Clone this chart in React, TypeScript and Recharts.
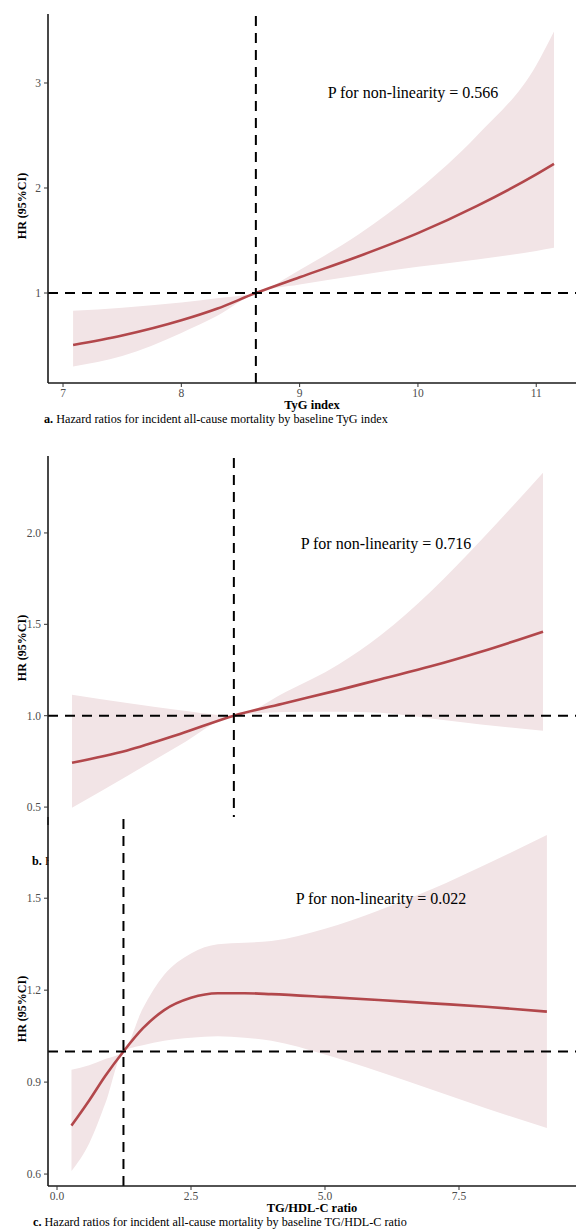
import React from 'react';
import { ComposedChart, Area, Line, XAxis, YAxis, ReferenceLine } from 'recharts';

const SERIF = "'Liberation Serif', 'Times New Roman', 'DejaVu Serif', serif";
const LINE_COLOR = '#B2474B';
const BAND_COLOR = '#F2E4E6';
const AXIS_COLOR = '#1a1a1a';
const TICK_COLOR = '#4d4d4d';

// a. TyG index
const A_X = [7.085, 7.5, 8.0, 8.3, 8.63, 9.0, 9.5, 10.0, 10.5, 11.0, 11.15];
const A_HR = [0.505, 0.595, 0.74, 0.85, 1.0, 1.15, 1.35, 1.57, 1.83, 2.13, 2.23];
const A_LO = [0.3, 0.4, 0.62, 0.78, 1.0, 1.08, 1.17, 1.25, 1.32, 1.4, 1.43];
const A_HI = [0.83, 0.86, 0.91, 0.95, 1.0, 1.22, 1.56, 1.98, 2.5, 3.17, 3.49];
const A_XTICKS = [7, 8, 9, 10, 11];
const A_YTICKS = [1, 2, 3];

// b. (x axis hidden under panel c)
const B_X = [0.455, 1.5, 2.5, 3.52, 4.5, 5.5, 6.3, 7.25, 8.2, 9.375];
const B_HR = [0.743, 0.81, 0.9, 1.0, 1.07, 1.14, 1.2, 1.27, 1.35, 1.46];
const B_LO = [0.497, 0.67, 0.84, 1.0, 1.02, 1.022, 1.016, 0.985, 0.952, 0.918];
const B_HI = [1.115, 1.07, 1.03, 1.0, 1.13, 1.28, 1.44, 1.68, 1.96, 2.33];
const B_YTICKS = [0.5, 1.0, 1.5, 2.0];

// c. TG/HDL-C ratio
const C_X = [0.27, 0.6, 0.9, 1.24, 1.6, 2.0, 2.5, 3.0, 3.5, 4.0, 5.0, 6.0, 7.0, 8.0, 9.14];
const C_HR = [0.758, 0.84, 0.92, 1.0, 1.075, 1.135, 1.175, 1.19, 1.19, 1.187, 1.178, 1.168, 1.157, 1.146, 1.13];
const C_LO = [0.61, 0.7, 0.83, 1.0, 1.02, 1.035, 1.045, 1.05, 1.045, 1.035, 0.99, 0.935, 0.875, 0.815, 0.75];
const C_HI = [0.94, 0.955, 0.975, 1.0, 1.14, 1.25, 1.32, 1.35, 1.355, 1.36, 1.4, 1.46, 1.53, 1.61, 1.706];
const C_XTICKS = [0, 2.5, 5, 7.5];
const C_YTICKS = [0.6, 0.9, 1.2, 1.5];

type Row = { x: number; hr: number; band: [number, number] };

function toRows(xs: number[], hr: number[], lo: number[], hi: number[]): Row[] {
  return xs.map((x, i) => ({ x, hr: hr[i], band: [lo[i], hi[i]] }));
}

interface PanelProps {
  top: number;
  data: Row[];
  xDomain: [number, number];
  xTicks?: number[];
  xFmt?: (v: number) => string;
  hideX?: boolean;
  yDomain: [number, number];
  yTicks: number[];
  yFmt: (v: number) => string;
  refX: number;
  pValue: string;
  pX: number;
  pY: number;
  title?: string;
  letter: string;
  caption: string;
  captionX: number;
}

const tickStyle = { fill: TICK_COLOR, fontSize: 11.5, style: { fontFamily: SERIF } };

function Panel(p: PanelProps) {
  return (
    <div style={{ position: 'absolute', left: 0, top: p.top, width: 576, height: 426, fontFamily: SERIF }}>
      <ComposedChart
        width={576}
        height={403}
        data={p.data}
        margin={{ top: 14, right: 0, bottom: p.hideX ? 20 : 0, left: 0 }}
        style={{ fontFamily: SERIF }}
      >
        <XAxis
          type="number"
          dataKey="x"
          domain={p.xDomain}
          ticks={p.xTicks}
          tickFormatter={p.xFmt}
          allowDataOverflow
          hide={p.hideX}
          height={20}
          tickSize={4}
          tickMargin={2}
          tick={tickStyle}
          axisLine={{ stroke: AXIS_COLOR, strokeWidth: 1.6 }}
          tickLine={{ stroke: '#333' }}
        />
        <YAxis
          type="number"
          domain={p.yDomain}
          ticks={p.yTicks}
          tickFormatter={p.yFmt}
          allowDataOverflow
          width={48}
          tickSize={4}
          tickMargin={3}
          tick={tickStyle}
          axisLine={{ stroke: AXIS_COLOR, strokeWidth: 1.6 }}
          tickLine={{ stroke: '#333' }}
        />
        <Area
          dataKey="band"
          type="monotone"
          fill={BAND_COLOR}
          fillOpacity={1}
          stroke="none"
          activeDot={false}
          isAnimationActive={false}
        />
        <Line
          dataKey="hr"
          type="monotone"
          stroke={LINE_COLOR}
          strokeWidth={2.6}
          dot={false}
          activeDot={false}
          isAnimationActive={false}
        />
        <ReferenceLine y={1} stroke="#000" strokeWidth={2} strokeDasharray="10 7" />
        <ReferenceLine x={p.refX} stroke="#000" strokeWidth={2} strokeDasharray="10 7" />
      </ComposedChart>
      <svg
        width={576}
        height={426}
        style={{ position: 'absolute', left: 0, top: 0, pointerEvents: 'none', fontFamily: SERIF }}
      >
        <text x={p.pX} y={p.pY} textAnchor="middle" fontSize={16} fill="#000">
          P for non-linearity = {p.pValue}
        </text>
        <text transform="translate(26, 206) rotate(-90)" textAnchor="middle" fontSize={12} fontWeight="bold" fill="#000">
          HR (95%CI)
        </text>
        {p.title && (
          <text x={312} y={409} textAnchor="middle" fontSize={12.5} fontWeight="bold" fill="#000">
            {p.title}
          </text>
        )}
        <text x={p.captionX} y={423} fontSize={12.2} fill="#000">
          <tspan fontWeight="bold">{p.letter}</tspan> {p.caption}
        </text>
      </svg>
    </div>
  );
}

export default function App() {
  const oneDec = (v: number) => v.toFixed(1);
  const plain = (v: number) => String(v);

  return (
    <div style={{ position: 'absolute', left: 0, top: 0, width: 576, height: 1229, background: '#fff', overflow: 'hidden', fontFamily: SERIF }}>
      <Panel
        top={0}
        data={toRows(A_X, A_HR, A_LO, A_HI)}
        xDomain={[6.873, 11.336]}
        xTicks={A_XTICKS}
        xFmt={plain}
        yDomain={[0.143, 3.657]}
        yTicks={A_YTICKS}
        yFmt={plain}
        refX={8.63}
        pValue="0.566"
        pX={413}
        pY={98}
        title="TyG index"
        letter="a."
        caption="Hazard ratios for incident all-cause mortality by baseline TyG index"
        captionX={44}
      />
      <Panel
        top={442}
        data={toRows(B_X, B_HR, B_LO, B_HI)}
        xDomain={[0, 10]}
        hideX
        yDomain={[0.402, 2.421]}
        yTicks={B_YTICKS}
        yFmt={oneDec}
        refX={3.52}
        pValue="0.716"
        pX={386}
        pY={107}
        letter="b."
        caption="Hazard ratios for incident all-cause mortality by baseline"
        captionX={32}
      />
      {/* panel c is pasted over the lower part of panel b */}
      <div style={{ position: 'absolute', left: 49, top: 817, width: 527, height: 412, background: '#fff' }} />
      <Panel
        top={803}
        data={toRows(C_X, C_HR, C_LO, C_HI)}
        xDomain={[-0.168, 9.683]}
        xTicks={C_XTICKS}
        xFmt={oneDec}
        yDomain={[0.561, 1.765]}
        yTicks={C_YTICKS}
        yFmt={oneDec}
        refX={1.24}
        pValue="0.022"
        pX={381}
        pY={101}
        title="TG/HDL-C ratio"
        letter="c."
        caption="Hazard ratios for incident all-cause mortality by baseline TG/HDL-C ratio"
        captionX={33}
      />
    </div>
  );
}
